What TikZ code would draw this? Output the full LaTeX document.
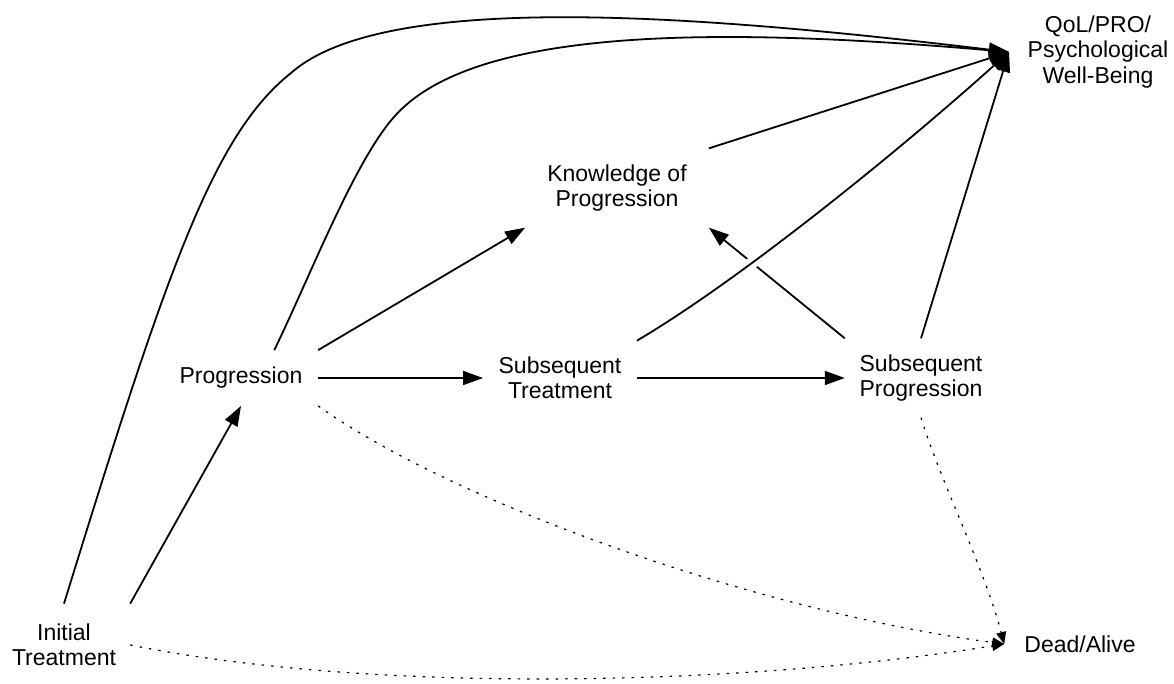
\documentclass[tikz,border=0pt]{standalone}
\usepackage{fontspec}
\setmainfont{Liberation Sans}
\usetikzlibrary{arrows.meta}
\tikzset{
  lbl/.style={font=\fontsize{23}{25.5}\selectfont, align=center, inner ysep=16pt},
  solidarr/.style={line width=1.8pt, -{Triangle[length=20pt,width=14pt]}},
  dotarr/.style={line width=1.2pt, dash pattern=on 2.5pt off 7pt, -{Triangle[length=12pt,width=10pt]}},
}
\begin{document}
\begin{tikzpicture}[x=1pt,y=-1pt]
\useasboundingbox (0,0) rectangle (1174,683);
\node[lbl, inner xsep=14pt, inner ysep=20pt] (init) at (64,645) {Initial\\Treatment};
\node[lbl, inner xsep=15.6pt, inner ysep=17pt] (prog) at (241,378) {Progression};
\node[lbl, inner xsep=15.4pt] (subtreat) at (560,378) {Subsequent\\Treatment};
\node[lbl, inner xsep=14.6pt] (subprog) at (921,378) {Subsequent\\Progression};
\node[lbl, inner xsep=22pt] (know) at (617,188) {Knowledge of\\Progression};
\node[lbl, inner xsep=18.5pt, inner ysep=4pt] (qol) at (1098,52) {QoL/PRO/\\Psychological\\Well-Being};
\node[lbl, inner xsep=20pt, inner ysep=4pt] (dead) at (1080,644) {Dead/Alive};

% line with a gap where the curve crosses it
\draw[solidarr] (subprog.north west) -- (know.south east);
\draw[solidarr, preaction={draw=white, line width=12pt, arrows=-}]
  (subtreat.north east) .. controls (740,280) and (900,150) .. (qol.west);

\draw[solidarr] (init.north) .. controls (167,270) and (213,135) .. (291,73)
  .. controls (385,-10) and (700,15) .. (qol.west);
\draw[solidarr] (prog.40) .. controls (309,279) and (354,162) .. (394,117)
  .. controls (470,30) and (700,25) .. (qol.west);
\draw[solidarr] (init.north east) -- (prog.south);
\draw[solidarr] (prog.north east) -- (know.south west);
\draw[solidarr] (prog.east) -- (subtreat.west);
\draw[solidarr] (subtreat.east) -- (subprog.west);
\draw[solidarr] (know.north east) -- (qol.west);
\draw[solidarr] (subprog.north) -- (qol.west);

\draw[dotarr] (prog.south east) .. controls (450,500) and (750,610) .. (dead.west);
\draw[dotarr] (subprog.south) .. controls (940,480) and (985,570) .. (dead.west);
\draw[dotarr] (init.east) .. controls (380,695) and (750,685) .. (dead.west);
\end{tikzpicture}
\end{document}
